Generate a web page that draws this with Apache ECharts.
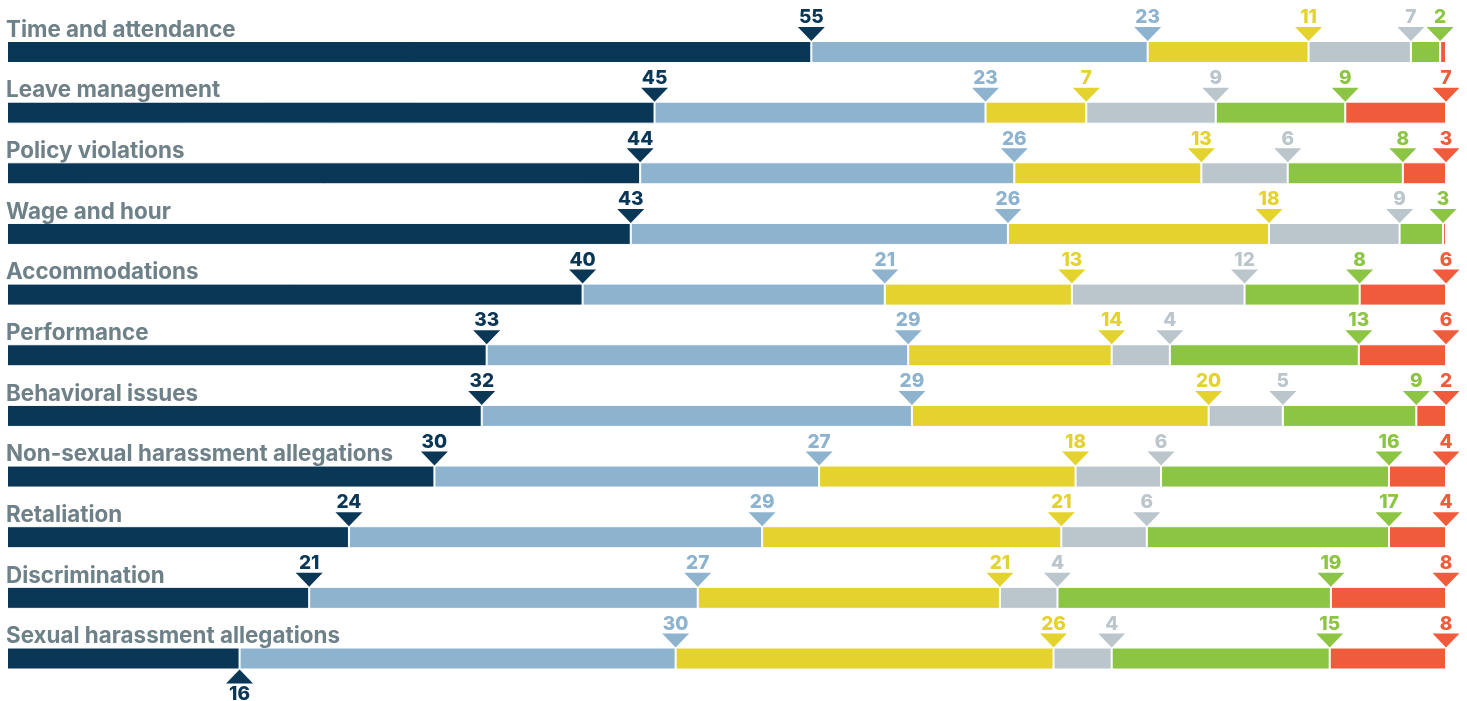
<!DOCTYPE html>
<html>
<head>
<meta charset="utf-8">
<title>HR issue breakdown</title>
<script src="https://cdn.jsdelivr.net/npm/echarts@6/dist/echarts.min.js"></script>
<style>
  html, body { margin: 0; padding: 0; background: #fff; }
  #chart { width: 1467px; height: 701px; }
</style>
</head>
<body>
<div id="chart"></div>
<script>
// Issue categories, top to bottom
const categories = [
  'Time and attendance',
  'Leave management',
  'Policy violations',
  'Wage and hour',
  'Accommodations',
  'Performance',
  'Behavioral issues',
  'Non-sexual harassment allegations',
  'Retaliation',
  'Discrimination',
  'Sexual harassment allegations'
];

// Share (%) for each of the six stacked segments, left to right
const navyValues      = [55, 45, 44, 43, 40, 33, 32, 30, 24, 21, 16];
const lightBlueValues = [23, 23, 26, 26, 21, 29, 29, 27, 29, 27, 30];
const yellowValues    = [11,  7, 13, 18, 13, 14, 20, 18, 21, 21, 26];
const grayValues      = [ 7,  9,  6,  9, 12,  4,  5,  6,  6,  4,  4];
const greenValues     = [ 2,  9,  8,  3,  8, 13,  9, 16, 17, 19, 15];
const redValues       = [0.4, 7,  3, 0.2, 6,  6,  2,  4,  4,  8,  8];

const segments = [navyValues, lightBlueValues, yellowValues, grayValues, greenValues, redValues];
const colors = ['#0b3757', '#8db3cf', '#e4d22f', '#bac6cc', '#8cc443', '#f05b3b'];

const TOP0 = 41;      // top of first bar (outline included)
const STEP = 60.65;   // row pitch
const BAR_H = 22;     // bar thickness incl. white outline

const grids = [], xAxes = [], yAxes = [], series = [], titles = [];

categories.forEach((cat, r) => {
  const vals = segments.map(s => s[r]);
  const total = vals.reduce((a, b) => a + b, 0);
  const top = TOP0 + r * STEP;

  grids.push({ left: 7, right: 21, top: top, height: BAR_H });
  xAxes.push({ gridIndex: r, type: 'value', min: 0, max: total, show: false });
  yAxes.push({ gridIndex: r, type: 'category', data: [cat], show: false });
  titles.push({
    text: cat, left: 6, top: top - 22, padding: 0,
    textStyle: { color: '#6e8088', fontSize: 22.4, fontWeight: 700, fontFamily: 'Inter' }
  });

  let cum = 0;
  vals.forEach((v, j) => {
    series.push({
      type: 'bar', xAxisIndex: r, yAxisIndex: r, stack: 'row' + r,
      data: [v], barWidth: BAR_H, silent: true,
      itemStyle: { color: colors[j], borderColor: '#fff', borderWidth: 1 }
    });
    cum += v;
    if (v >= 1) {
      const below = (r === categories.length - 1 && j === 0);
      series.push({
        type: 'scatter', xAxisIndex: r, yAxisIndex: r, clip: false, silent: true, z: 5,
        data: [[cum, cat]],
        symbol: 'triangle', symbolRotate: below ? 0 : 180,
        symbolSize: [27, 14], symbolOffset: [0, below ? 18 : -18],
        itemStyle: { color: colors[j], opacity: 1 },
        label: {
          show: true, position: below ? 'bottom' : 'top', distance: 1,
          offset: [0, below ? 0 : 1],
          formatter: () => String(v),
          color: colors[j], fontSize: 19, fontWeight: 800, fontFamily: 'Inter'
        }
      });
    }
  });
});

const chart = echarts.init(document.getElementById('chart'));
chart.setOption({
  animation: false,
  title: titles,
  grid: grids,
  xAxis: xAxes,
  yAxis: yAxes,
  series: series
});
</script>
</body>
</html>
